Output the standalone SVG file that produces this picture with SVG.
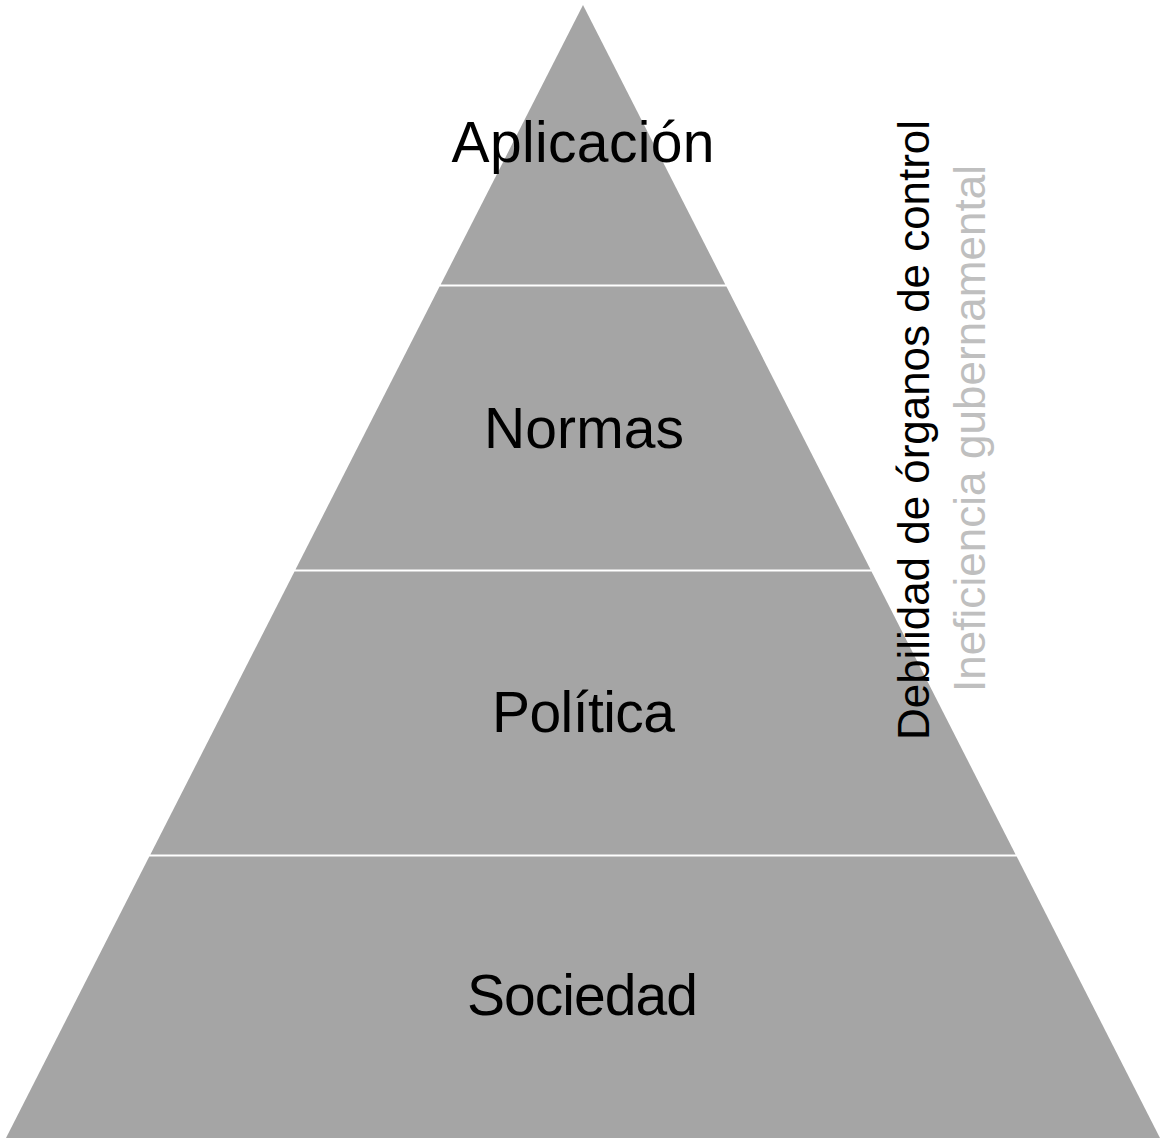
<svg xmlns="http://www.w3.org/2000/svg" width="1163" height="1141" viewBox="0 0 1163 1141">
<style>
.band{fill:#A5A5A5;}
.lbl{font-family:"Liberation Sans",Arial,sans-serif;font-size:57px;fill:#000;text-anchor:middle;}
.side{font-family:"Liberation Sans",Arial,sans-serif;font-size:44px;}
</style>
<rect width="1163" height="1141" fill="#FFFFFF"/>
<g id="level-aplicacion">
<polygon class="band" points="583,5 725.3,284.5 440.7,284.5"/>
<text class="lbl" x="583" y="162" textLength="263">Aplicación</text>
</g>
<g id="level-normas">
<polygon class="band" points="439.6,286.5 726.4,286.5 870.5,569.5 295.5,569.5"/>
<text class="lbl" x="584" y="448" textLength="200">Normas</text>
</g>
<g id="level-politica">
<polygon class="band" points="294.5,571.5 871.5,571.5 1015.6,854.5 150.4,854.5"/>
<text class="lbl" x="583.5" y="732" textLength="183">Política</text>
</g>
<g id="level-sociedad">
<polygon class="band" points="149.3,856.5 1016.7,856.5 1160,1138 6,1138"/>
<text class="lbl" x="582.5" y="1015" textLength="231">Sociedad</text>
</g>
<g id="connectors"></g>
<g id="side-labels">
<text class="side" fill="#000000" transform="translate(929,740) rotate(-90)" textLength="620">Debilidad de órganos de control</text>
<text class="side" fill="#BFBFBF" transform="translate(985,692) rotate(-90)" textLength="527">Ineficiencia gubernamental</text>
</g>
</svg>
